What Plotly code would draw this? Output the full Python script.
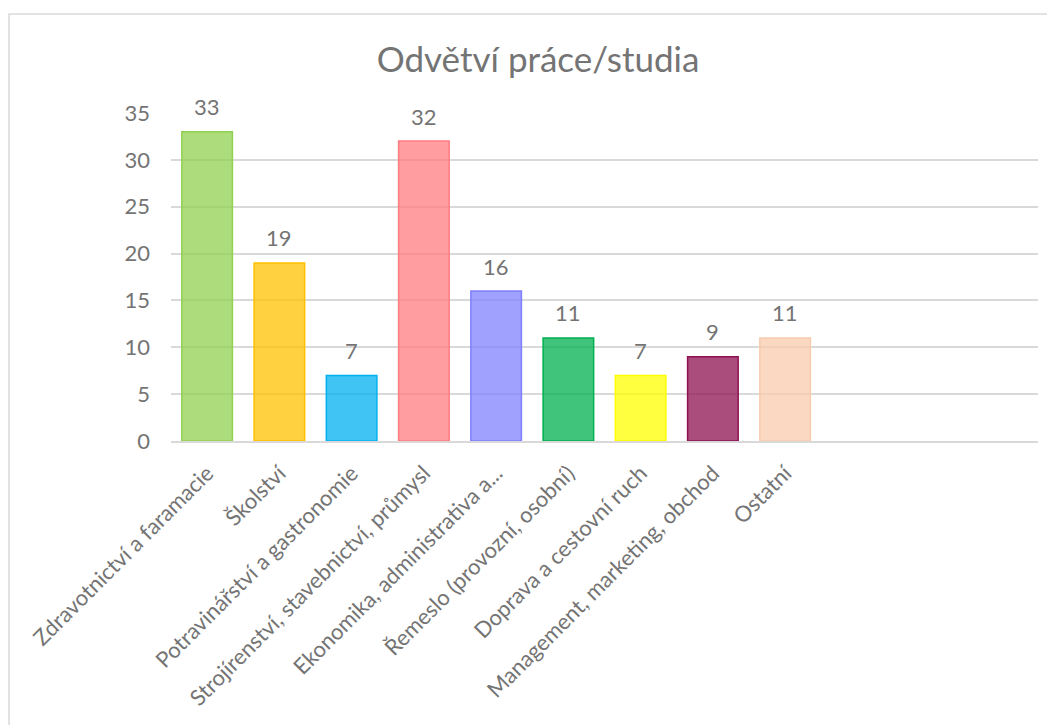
import plotly.graph_objects as go

# Data
categories = [
    "Zdravotnictví a faramacie",
    "Školství",
    "Potravinářství a gastronomie",
    "Strojírenství, stavebnictví, průmysl",
    "Ekonomika, administrativa a...",
    "Řemeslo (provozní, osobní)",
    "Doprava a cestovní ruch",
    "Management, marketing, obchod",
    "Ostatní",
]
values = [33, 19, 7, 32, 16, 11, 7, 9, 11]

# Excel-ish palette: outline colour, fill is the same at 75 % opacity
base_colors = [
    (146, 208, 80),
    (255, 192, 0),
    (0, 176, 240),
    (255, 124, 128),
    (128, 128, 255),
    (0, 176, 80),
    (255, 255, 0),
    (141, 17, 81),
    (248, 203, 173),
]

TEXT = "#747474"
GRID = "#D9D9D9"
FONT = "Lato, Calibri, sans-serif"

# page body has an 8px margin, so the figure is a bit smaller than the window
W, H = 1047, 717
L, R, T, B = 163, 17, 105, 284   # plot area 171..1038 x 113..441 in the window

x_pos = list(range(len(categories)))
fills = ["rgba(%d,%d,%d,0.75)" % c for c in base_colors]
lines = ["rgb(%d,%d,%d)" % c for c in base_colors]

fig = go.Figure()
fig.add_bar(
    x=x_pos,
    y=values,
    width=0.7,
    marker=dict(color=fills, line=dict(color=lines, width=1.5)),
    hoverinfo="x+y",
)

# value labels above the bars
for xi, v in zip(x_pos, values):
    fig.add_annotation(
        x=xi, y=v, text=str(v), showarrow=False,
        yanchor="middle", yshift=25,
        font=dict(size=22, color=TEXT, family=FONT),
    )

# outer chart frame (runs off the right and bottom edge like the screenshot)
pw, ph = W - L - R, H - T - B
fig.add_shape(
    type="rect", xref="paper", yref="paper",
    x0=(1 - L) / pw, x1=(W + 30 - L) / pw,
    y0=-(B + 30) / ph, y1=(ph + T - 6) / ph,
    line=dict(color="#D9D9D9", width=1.5), fillcolor="rgba(0,0,0,0)",
    layer="below",
)

fig.update_layout(
    width=W, height=H,
    margin=dict(l=L, r=R, t=T, b=B),
    paper_bgcolor="white",
    plot_bgcolor="white",
    showlegend=False,
    font=dict(family=FONT, color=TEXT, size=22),
    title=dict(
        text="Odvětví práce/studia",
        x=(538 - 8) / W, xanchor="center", xref="container",
        y=1 - 52 / H, yanchor="middle", yref="container",
        font=dict(size=35, color=TEXT, family=FONT),
    ),
    xaxis=dict(
        range=[-0.5, 11.5],
        tickmode="array",
        tickvals=x_pos,
        ticktext=categories,
        tickangle=-45,
        showgrid=False,
        showline=True, linecolor=GRID, linewidth=1.5,
        ticks="", zeroline=False,
        ticklabelstandoff=9,
        tickfont=dict(size=22, color=TEXT, family=FONT),
    ),
    yaxis=dict(
        range=[0, 35],
        dtick=5,
        showgrid=True, gridcolor=GRID, gridwidth=1.5,
        zeroline=False, showline=False, ticks="",
        ticklabelstandoff=20,
        tickfont=dict(size=22, color=TEXT, family=FONT),
    ),
)

fig.write_html("out.html")
